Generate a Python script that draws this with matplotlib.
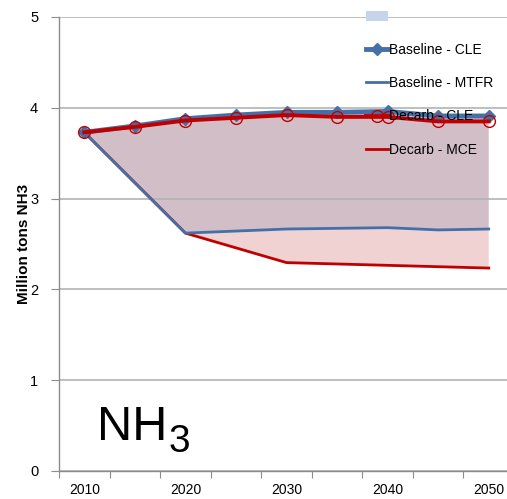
import numpy as np
import matplotlib
matplotlib.use("Agg")
import matplotlib.pyplot as plt
from matplotlib.lines import Line2D
from matplotlib.patches import Patch

plt.rcParams['font.family'] = ['Liberation Sans', 'DejaVu Sans']

# ---- data ----
years = [2010, 2015, 2020, 2025, 2030, 2035, 2040, 2045, 2050]
tick_labels = ['2010', '2020', '2030', '2040', '2050']
baseline_cle = [3.73, 3.80, 3.88, 3.92, 3.95, 3.95, 3.96, 3.91, 3.91]
decarb_cle = [3.73, 3.79, 3.86, 3.89, 3.92, 3.90, 3.90, 3.85, 3.85]
low_years = [2010, 2020, 2030, 2040, 2045, 2050]
baseline_mtfr = [3.73, 2.62, 2.665, 2.68, 2.655, 2.665]
decarb_mce = [3.73, 2.62, 2.295, 2.265, 2.25, 2.235]
labels = ['', 'Baseline - CLE', 'Baseline - MTFR', 'Decarb - CLE', 'Decarb - MCE']

BLUE = '#4470a8'
RED = '#c00000'
PURPLE = '#d2bec7'
PINK = '#f0d2d3'
LIGHTBLUE = '#c6d5ea'
GRID = '#b3b3b3'

W, H = 507, 499
fig = plt.figure(figsize=(W / 100, H / 100), dpi=100)
ax = fig.add_axes([59 / W, (H - 471) / H, (514 - 59) / W, (471 - 17) / H])

idx = {y: i for i, y in enumerate(years)}
x_all = np.array([idx[y] for y in years], dtype=float)
x_low = np.array([idx[y] for y in low_years], dtype=float)

# filled areas
ax.fill(np.concatenate([x_all, x_low[::-1]]),
        np.concatenate([baseline_cle, baseline_mtfr[::-1]]),
        color=PURPLE, lw=0, zorder=1)
ax.fill(np.concatenate([x_low, x_low[::-1]]),
        np.concatenate([baseline_mtfr, decarb_mce[::-1]]),
        color=PINK, lw=0, zorder=1)

# lines
ax.plot(x_low, decarb_mce, color=RED, lw=2.0, zorder=3)
ax.plot(x_low, baseline_mtfr, color=BLUE, lw=2.0, zorder=3)
ax.plot(x_all, baseline_cle, color=BLUE, lw=3.5, marker='D', ms=6,
        mfc=BLUE, mec=BLUE, zorder=4)
ax.plot(x_all, decarb_cle, color=RED, lw=2.8, marker='o', ms=8.5,
        mfc='none', mec=RED, mew=1.0, zorder=5)

# axes styling
ax.set_xlim(-0.5, len(years) - 0.5)
ax.set_ylim(0, 5)
ax.set_yticks(range(0, 6))
ax.yaxis.grid(True, color=GRID, lw=1.2)
ax.set_axisbelow('line')
for s in ['top', 'right']:
    ax.spines[s].set_visible(False)
for s in ['left', 'bottom']:
    ax.spines[s].set_color('#8c8c8c')
    ax.spines[s].set_linewidth(1.0)

ax.set_xticks(np.arange(-0.5, len(years) - 0.5, 1.0))
ax.set_xticklabels([])
ax.set_xticks([idx[int(t)] for t in tick_labels], minor=True)
ax.set_xticklabels(tick_labels, minor=True)
ax.tick_params(axis='x', which='major', length=5, color='#8c8c8c', direction='out')
ax.tick_params(axis='x', which='minor', length=0, labelsize=10, pad=9, labelcolor='black')
ax.tick_params(axis='y', length=6, color='#8c8c8c', labelsize=10.5, pad=9)

ax.set_ylabel('Million tons NH3', fontsize=11, fontweight='bold', labelpad=-1)

# NH3 label
fig.text(97 / W, 1 - 440 / H, 'NH', fontsize=35, va='baseline', ha='left')
fig.text(169 / W, 1 - 452 / H, '3', fontsize=28, va='baseline', ha='left')

# legend
handles = [
    Patch(facecolor=LIGHTBLUE, edgecolor='none'),
    Line2D([], [], color=BLUE, lw=3.5, marker='D', ms=6, mfc=BLUE, mec=BLUE),
    Line2D([], [], color=BLUE, lw=2.0),
    Line2D([], [], color=RED, lw=2.8, marker='o', ms=8.5, mfc='none', mec=RED),
    Line2D([], [], color=RED, lw=2.0),
]
fig.legend(handles, labels, loc='upper left', bbox_to_anchor=(366 / W, 1 - 10 / H),
           frameon=False, fontsize=10, borderpad=0, borderaxespad=0,
           handlelength=1.55, handletextpad=0.1, labelspacing=1.38,
           markerscale=1.0)

fig.savefig('out.png', dpi=100)
